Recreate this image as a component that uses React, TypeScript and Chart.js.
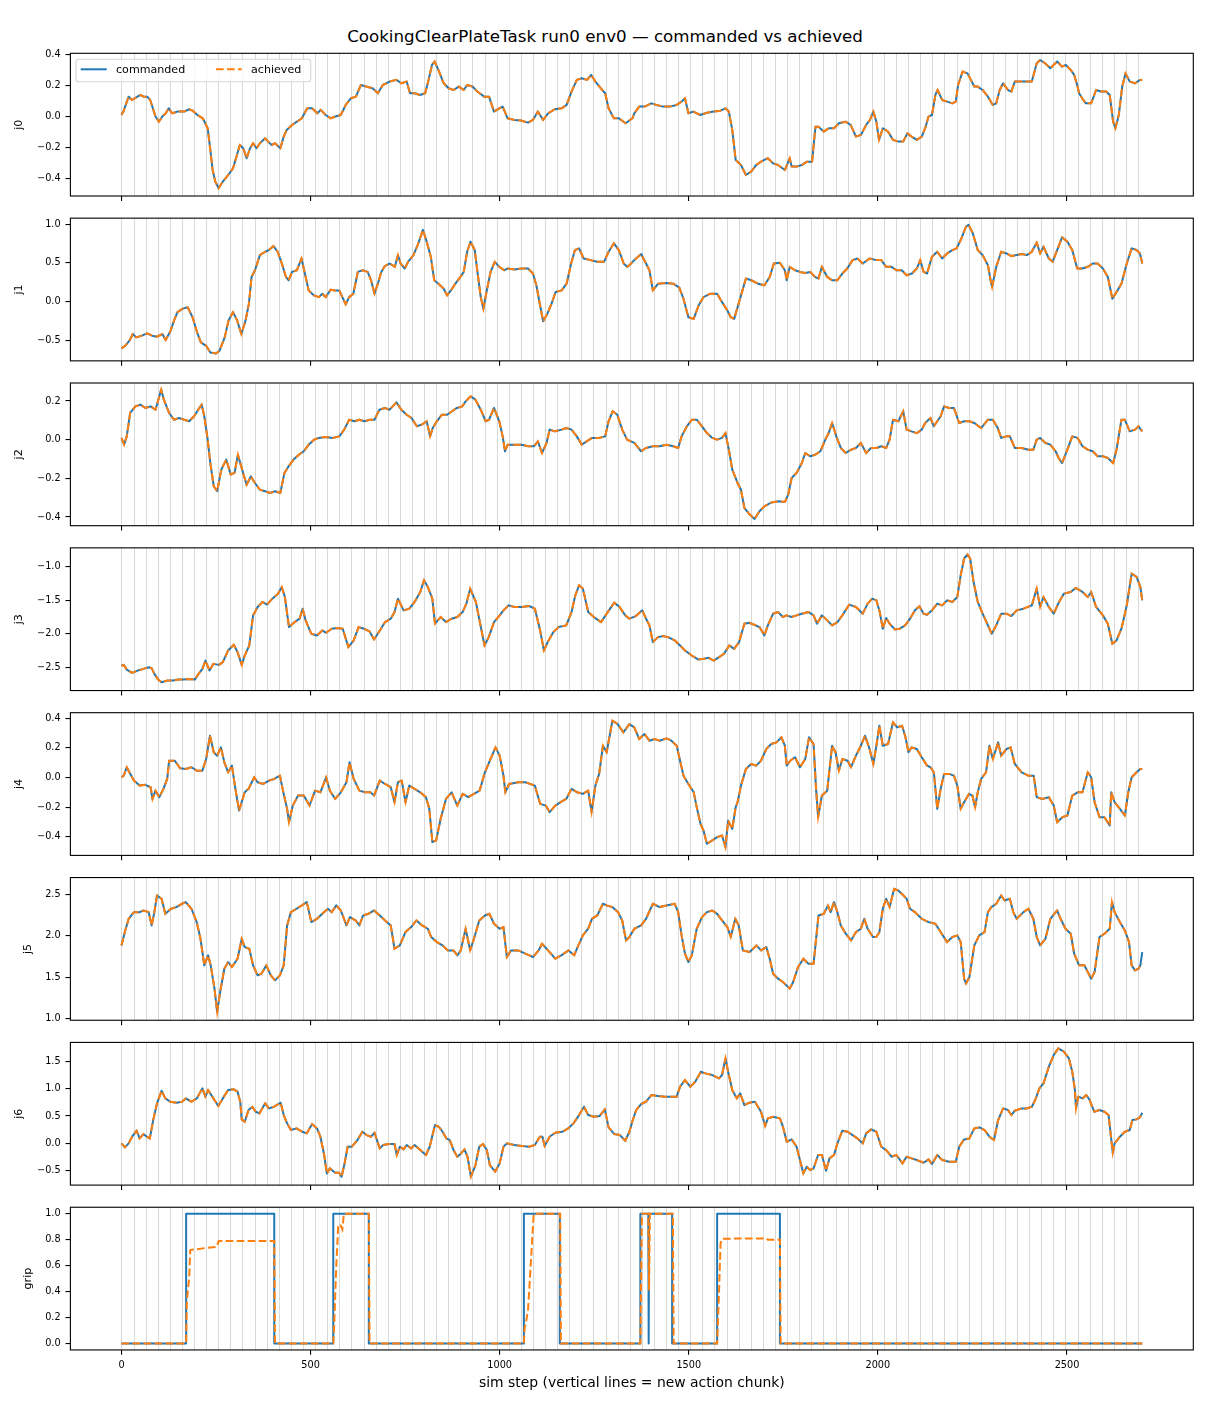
import React, { useEffect, useRef } from "react";
import { Chart, registerables } from "chart.js";

Chart.register(...registerables);
Chart.defaults.font.family = "'DejaVu Sans', sans-serif";
Chart.defaults.color = "#000";

type Pt = [number, number];

const TITLE = "CookingClearPlateTask run0 env0 \u2014 commanded vs achieved";
const X_LABEL = "sim step (vertical lines = new action chunk)";
const LEGEND_LABELS = ["commanded", "achieved"];

const xTicks = [0, 500, 1000, 1500, 2000, 2500];

const chunkStarts = [
  0, 32, 64, 96, 128, 160, 192, 224, 256, 288, 320, 352, 384, 416, 448, 480, 512, 544, 576, 608,
  640, 672, 704, 736, 768, 800, 832, 864, 896, 928, 960, 992, 1024, 1056, 1088, 1120, 1152, 1184,
  1216, 1248, 1280, 1312, 1344, 1376, 1408, 1440, 1472, 1504, 1536, 1568, 1600, 1632, 1664, 1696,
  1728, 1760, 1792, 1824, 1856, 1888, 1920, 1952, 1984, 2016, 2048, 2080, 2112, 2144, 2176, 2208,
  2240, 2272, 2304, 2336, 2368, 2400, 2432, 2464, 2496, 2528, 2560, 2592, 2624, 2656, 2688,
];

const j0Commanded: Pt[] = [
  [0,0.008],[5,0.03],[19,0.126],[28,0.105],[36,0.116],[50,0.137],[59,0.126],[68,0.126],[76,0.105],[90,-0.002],[99,-0.035],[108,-0.002],[117,0.019],[125,0.051],[134,0.019],[148,0.03],[166,0.03],[179,0.045],[188,0.036],[201,0.008],[215,-0.013],[228,-0.077],[235,-0.217],[241,-0.345],[248,-0.42],[257,-0.463],[268,-0.42],[282,-0.378],[295,-0.335],[304,-0.26],[313,-0.185],[322,-0.206],[331,-0.27],[340,-0.206],[348,-0.174],[357,-0.206],[366,-0.174],[380,-0.142],[388,-0.163],[397,-0.185],[406,-0.174],[420,-0.206],[429,-0.131],[437,-0.088],[451,-0.056],[464,-0.035],[477,-0.013],[491,0.051],[504,0.051],[518,0.019],[527,0.041],[540,0.008],[553,-0.013],[566,-0.002],[580,0.008],[593,0.073],[607,0.116],[620,0.126],[633,0.201],[647,0.191],[664,0.18],[678,0.148],[691,0.201],[709,0.223],[727,0.234],[740,0.212],[754,0.223],[763,0.148],[776,0.148],[789,0.137],[803,0.148],[812,0.234],[821,0.33],[828,0.352],[838,0.298],[852,0.212],[865,0.18],[878,0.169],[892,0.191],[905,0.169],[914,0.201],[928,0.191],[941,0.159],[959,0.126],[972,0.126],[985,0.03],[999,0.051],[1008,0.062],[1021,-0.013],[1039,-0.024],[1057,-0.028],[1075,-0.041],[1088,-0.024],[1101,0.03],[1115,-0.024],[1128,0.019],[1146,0.045],[1164,0.051],[1177,0.073],[1190,0.159],[1204,0.234],[1217,0.244],[1231,0.234],[1242,0.266],[1253,0.223],[1271,0.169],[1279,0.148],[1288,0.051],[1302,-0.013],[1315,-0.013],[1333,-0.045],[1351,-0.013],
  [1356,0.019],[1369,0.062],[1383,0.062],[1401,0.083],[1414,0.073],[1432,0.062],[1450,0.062],[1468,0.073],[1481,0.094],[1490,0.116],[1499,0.019],[1512,0.03],[1530,0.008],[1548,0.023],[1566,0.03],[1584,0.036],[1597,0.051],[1606,0.03],[1615,-0.088],[1624,-0.281],[1638,-0.314],[1651,-0.378],[1665,-0.356],[1678,-0.314],[1691,-0.292],[1709,-0.27],[1723,-0.303],[1736,-0.314],[1754,-0.346],[1767,-0.27],[1772,-0.324],[1785,-0.324],[1799,-0.314],[1812,-0.292],[1826,-0.292],[1835,-0.067],[1843,-0.067],[1857,-0.099],[1870,-0.077],[1884,-0.077],[1897,-0.045],[1915,-0.035],[1928,-0.056],[1942,-0.131],[1955,-0.12],[1969,-0.056],[1979,-0.024],[1988,0.03],[1996,-0.035],[2003,-0.152],[2013,-0.077],[2027,-0.099],[2040,-0.152],[2054,-0.163],[2067,-0.163],[2078,-0.11],[2089,-0.131],[2103,-0.152],[2116,-0.131],[2125,-0.077],[2134,-0.002],[2143,0.008],[2152,0.137],[2158,0.169],[2170,0.105],[2183,0.094],[2197,0.083],[2206,0.094],[2212,0.201],[2224,0.287],[2237,0.276],[2246,0.234],[2255,0.191],[2264,0.191],[2277,0.169],[2291,0.126],[2304,0.073],[2313,0.083],[2322,0.169],[2331,0.212],[2344,0.169],[2353,0.159],[2362,0.223],[2380,0.223],[2394,0.223],[2407,0.223],[2420,0.341],[2429,0.362],[2442,0.341],[2456,0.309],[2474,0.352],[2487,0.319],[2497,0.33],[2510,0.298],[2519,0.266],[2528,0.191],[2532,0.148],[2543,0.105],[2550,0.083],[2564,0.083],[2577,0.169],[2590,0.159],[2604,0.159],[2613,0.137],[2622,-0.035],[2628,-0.077],[2637,0.008],[2646,0.191],[2655,0.276],[2666,0.223],[2680,0.212],[2693,0.234],[2699,0.234],
];

const j1Commanded: Pt[] = [
  [0,-0.608],[10,-0.574],[21,-0.508],[30,-0.422],[39,-0.465],[54,-0.443],[68,-0.413],[81,-0.443],[94,-0.456],[108,-0.422],[117,-0.5],[130,-0.378],[139,-0.248],[148,-0.139],[161,-0.096],[175,-0.074],[188,-0.204],[200,-0.4],[210,-0.53],[224,-0.574],[235,-0.661],[250,-0.674],[259,-0.639],[273,-0.465],[283,-0.248],[295,-0.139],[306,-0.248],[317,-0.422],[328,-0.248],[337,-0.03],[344,0.317],[353,0.404],[366,0.6],[380,0.643],[390,0.665],[402,0.717],[413,0.643],[424,0.491],[435,0.317],[442,0.274],[451,0.382],[464,0.404],[476,0.556],[485,0.361],[495,0.143],[509,0.078],[522,0.056],[531,0.1],[540,0.056],[553,0.152],[565,0.143],[576,0.143],[584,0.056],[593,-0.039],[602,0.056],[613,0.1],[625,0.382],[638,0.404],[651,0.382],[660,0.274],[669,0.1],[678,0.23],[687,0.382],[696,0.456],[709,0.491],[723,0.448],[731,0.6],[738,0.491],[749,0.426],[758,0.513],[772,0.6],[785,0.752],[797,0.926],[807,0.774],[818,0.578],[827,0.274],[838,0.23],[852,0.165],[861,0.078],[871,0.143],[883,0.23],[896,0.317],[905,0.382],[914,0.643],[923,0.774],[934,0.665],[943,0.317],[950,0.056],[957,-0.096],[966,0.143],[976,0.382],[987,0.513],[999,0.448],[1012,0.404],[1021,0.426],[1039,0.413],[1057,0.426],[1075,0.426],[1088,0.361],[1097,0.209],[1106,-0.03],[1115,-0.256],[1126,-0.161],[1137,-0.03],[1148,0.122],[1164,0.143],[1177,0.23],[1189,0.491],[1199,0.665],[1210,0.687],[1222,0.556],[1240,0.535],[1258,0.513],[1276,0.513],[1288,0.643],[1302,0.752],[1315,0.665],[1328,0.491],[1337,0.448],
  [1343,0.469],[1356,0.535],[1374,0.613],[1387,0.491],[1396,0.404],[1405,0.143],[1419,0.23],[1441,0.239],[1459,0.23],[1475,0.178],[1486,0.035],[1499,-0.204],[1513,-0.226],[1526,-0.052],[1539,0.056],[1557,0.1],[1575,0.1],[1588,-0.009],[1602,-0.117],[1611,-0.204],[1620,-0.226],[1629,-0.074],[1642,0.143],[1651,0.296],[1665,0.274],[1683,0.23],[1700,0.209],[1714,0.317],[1725,0.491],[1741,0.5],[1754,0.404],[1759,0.274],[1767,0.448],[1781,0.404],[1794,0.382],[1808,0.369],[1821,0.382],[1834,0.317],[1843,0.296],[1852,0.448],[1866,0.317],[1879,0.274],[1893,0.274],[1906,0.361],[1919,0.426],[1933,0.535],[1946,0.556],[1960,0.491],[1978,0.556],[1996,0.535],[2009,0.535],[2022,0.448],[2036,0.448],[2049,0.404],[2063,0.404],[2076,0.339],[2090,0.361],[2103,0.426],[2112,0.535],[2121,0.382],[2130,0.361],[2143,0.578],[2157,0.643],[2170,0.556],[2183,0.621],[2197,0.665],[2208,0.687],[2219,0.795],[2233,0.969],[2240,0.991],[2251,0.882],[2264,0.665],[2277,0.6],[2291,0.469],[2298,0.274],[2302,0.187],[2313,0.448],[2326,0.643],[2340,0.621],[2353,0.587],[2367,0.6],[2380,0.613],[2394,0.6],[2407,0.643],[2420,0.761],[2429,0.621],[2438,0.708],[2452,0.556],[2462,0.513],[2474,0.665],[2487,0.83],[2501,0.774],[2514,0.665],[2527,0.426],[2541,0.426],[2555,0.448],[2568,0.491],[2581,0.491],[2595,0.426],[2608,0.317],[2620,0.035],[2631,0.122],[2644,0.23],[2658,0.491],[2671,0.687],[2684,0.665],[2693,0.621],[2699,0.491],
];

const j2Commanded: Pt[] = [
  [0,0.009],[7,-0.026],[14,0.017],[23,0.138],[37,0.172],[50,0.181],[63,0.164],[77,0.172],[90,0.155],[99,0.216],[105,0.259],[112,0.207],[126,0.138],[139,0.103],[152,0.112],[166,0.103],[179,0.095],[192,0.121],[203,0.155],[212,0.181],[219,0.121],[228,0.0],[235,-0.121],[244,-0.241],[253,-0.267],[264,-0.155],[277,-0.103],[289,-0.181],[299,-0.172],[308,-0.078],[319,-0.155],[331,-0.233],[342,-0.19],[353,-0.224],[366,-0.259],[380,-0.267],[393,-0.276],[406,-0.267],[420,-0.276],[431,-0.172],[442,-0.138],[455,-0.103],[469,-0.078],[482,-0.06],[495,-0.026],[509,0.0],[522,0.009],[540,0.014],[558,0.009],[576,0.017],[589,0.052],[602,0.103],[616,0.095],[629,0.103],[643,0.095],[656,0.103],[669,0.103],[682,0.155],[696,0.164],[709,0.155],[727,0.193],[740,0.155],[754,0.129],[767,0.112],[781,0.069],[794,0.078],[807,0.095],[816,0.017],[823,0.06],[834,0.095],[847,0.129],[861,0.129],[874,0.147],[887,0.164],[901,0.172],[910,0.198],[923,0.224],[936,0.207],[950,0.155],[963,0.095],[972,0.103],[985,0.164],[999,0.095],[1008,0.017],[1014,-0.06],[1021,-0.026],[1039,-0.026],[1057,-0.026],[1075,-0.034],[1091,-0.034],[1101,-0.009],[1112,-0.069],[1124,-0.017],[1132,0.052],[1146,0.043],[1164,0.052],[1177,0.06],[1190,0.052],[1204,0.017],[1217,-0.026],[1230,-0.009],[1244,0.009],[1262,0.009],[1279,0.017],[1288,0.095],[1299,0.147],[1311,0.129],[1324,0.052],[1337,0.0],
  [1356,-0.017],[1374,-0.06],[1387,-0.043],[1405,-0.034],[1423,-0.034],[1441,-0.026],[1459,-0.034],[1472,-0.043],[1481,0.017],[1495,0.069],[1508,0.103],[1521,0.103],[1535,0.069],[1548,0.034],[1562,0.009],[1575,0.0],[1588,0.009],[1597,0.034],[1606,-0.052],[1615,-0.155],[1629,-0.224],[1638,-0.259],[1647,-0.353],[1660,-0.385],[1674,-0.41],[1687,-0.37],[1700,-0.345],[1718,-0.325],[1736,-0.319],[1754,-0.322],[1763,-0.284],[1772,-0.198],[1785,-0.172],[1799,-0.121],[1808,-0.069],[1821,-0.086],[1834,-0.078],[1848,-0.06],[1861,0.0],[1870,0.034],[1879,0.086],[1890,0.017],[1902,-0.043],[1915,-0.069],[1929,-0.052],[1942,-0.043],[1955,-0.017],[1969,-0.069],[1982,-0.043],[1996,-0.043],[2009,-0.034],[2022,-0.043],[2031,0.0],[2040,0.103],[2054,0.095],[2067,0.147],[2076,0.052],[2089,0.043],[2103,0.034],[2116,0.052],[2125,0.086],[2139,0.112],[2148,0.069],[2157,0.095],[2166,0.121],[2175,0.172],[2188,0.164],[2201,0.164],[2215,0.086],[2228,0.095],[2242,0.095],[2255,0.086],[2273,0.06],[2291,0.103],[2304,0.103],[2317,0.06],[2326,0.009],[2340,0.017],[2349,0.017],[2362,-0.043],[2380,-0.043],[2398,-0.052],[2411,-0.052],[2420,0.0],[2429,0.009],[2443,-0.017],[2456,-0.026],[2470,-0.06],[2478,-0.095],[2487,-0.121],[2501,-0.052],[2514,0.017],[2528,0.009],[2541,-0.034],[2555,-0.052],[2568,-0.06],[2581,-0.086],[2595,-0.086],[2608,-0.095],[2622,-0.121],[2631,-0.052],[2644,0.103],[2653,0.103],[2666,0.043],[2680,0.052],[2689,0.069],[2699,0.043],
];

const j3Commanded: Pt[] = [
  [0,-2.467],[6,-2.457],[14,-2.526],[28,-2.575],[43,-2.541],[58,-2.516],[72,-2.491],[80,-2.506],[87,-2.59],[97,-2.674],[106,-2.714],[121,-2.689],[136,-2.689],[150,-2.674],[165,-2.674],[180,-2.664],[194,-2.674],[204,-2.59],[214,-2.516],[222,-2.393],[233,-2.541],[243,-2.442],[258,-2.457],[268,-2.417],[282,-2.244],[297,-2.16],[307,-2.269],[318,-2.457],[326,-2.319],[338,-2.17],[348,-1.726],[360,-1.602],[373,-1.528],[385,-1.568],[399,-1.479],[414,-1.405],[424,-1.306],[432,-1.454],[443,-1.899],[458,-1.825],[471,-1.775],[479,-1.627],[487,-1.8],[502,-1.998],[517,-2.022],[531,-1.948],[541,-1.983],[556,-1.923],[570,-1.914],[585,-1.923],[600,-2.195],[614,-2.096],[627,-1.899],[641,-1.923],[656,-1.963],[668,-2.081],[683,-1.948],[697,-1.825],[712,-1.775],[722,-1.677],[731,-1.479],[746,-1.652],[761,-1.627],[775,-1.528],[790,-1.38],[800,-1.207],[810,-1.306],[822,-1.479],[829,-1.849],[844,-1.751],[858,-1.825],[873,-1.775],[888,-1.751],[902,-1.677],[912,-1.553],[922,-1.331],[937,-1.528],[952,-1.948],[960,-2.17],[971,-2.047],[985,-1.825],[1000,-1.726],[1010,-1.652],[1024,-1.578],[1039,-1.602],[1059,-1.602],[1078,-1.588],[1093,-1.627],[1107,-1.948],[1117,-2.244],[1127,-2.121],[1142,-1.973],[1156,-1.899],[1176,-1.874],[1190,-1.677],[1200,-1.43],[1210,-1.281],[1220,-1.331],[1234,-1.677],[1249,-1.751],[1268,-1.825],[1283,-1.701],[1303,-1.538],[1317,-1.602],[1332,-1.726],
  [1343,-1.775],[1360,-1.736],[1377,-1.652],[1387,-1.775],[1396,-1.874],[1405,-2.121],[1419,-2.047],[1432,-2.032],[1445,-2.047],[1463,-2.096],[1477,-2.17],[1490,-2.244],[1508,-2.319],[1526,-2.378],[1539,-2.368],[1553,-2.353],[1566,-2.393],[1580,-2.343],[1593,-2.294],[1607,-2.17],[1620,-2.22],[1633,-2.121],[1647,-1.849],[1660,-1.835],[1673,-1.864],[1687,-1.899],[1700,-2.022],[1709,-1.874],[1723,-1.701],[1736,-1.677],[1749,-1.751],[1758,-1.726],[1772,-1.751],[1785,-1.726],[1799,-1.701],[1817,-1.677],[1830,-1.726],[1839,-1.849],[1852,-1.726],[1866,-1.8],[1879,-1.874],[1893,-1.825],[1906,-1.726],[1924,-1.568],[1942,-1.602],[1960,-1.701],[1973,-1.553],[1985,-1.479],[1996,-1.504],[2005,-1.677],[2013,-1.923],[2022,-1.765],[2031,-1.849],[2045,-1.933],[2058,-1.923],[2072,-1.874],[2085,-1.775],[2098,-1.652],[2110,-1.593],[2121,-1.701],[2130,-1.716],[2143,-1.652],[2157,-1.553],[2170,-1.578],[2183,-1.504],[2197,-1.528],[2210,-1.454],[2219,-1.133],[2228,-0.886],[2237,-0.827],[2244,-0.886],[2253,-1.232],[2264,-1.528],[2277,-1.701],[2291,-1.874],[2301,-1.998],[2313,-1.874],[2326,-1.701],[2340,-1.701],[2353,-1.736],[2367,-1.652],[2385,-1.627],[2407,-1.578],[2420,-1.331],[2429,-1.602],[2438,-1.454],[2452,-1.602],[2465,-1.701],[2479,-1.528],[2492,-1.405],[2510,-1.38],[2523,-1.321],[2541,-1.38],[2555,-1.454],[2564,-1.38],[2577,-1.602],[2595,-1.726],[2608,-1.849],[2620,-2.146],[2631,-2.096],[2644,-1.923],[2658,-1.578],[2671,-1.109],[2684,-1.158],[2694,-1.306],[2699,-1.504],
];

const j4Commanded: Pt[] = [
  [0,0.002],[6,0.013],[14,0.07],[21,0.036],[33,-0.02],[48,-0.054],[63,-0.049],[77,-0.065],[82,-0.144],[90,-0.088],[100,-0.132],[111,-0.076],[121,-0.009],[126,0.114],[141,0.114],[155,0.063],[170,0.058],[185,0.07],[199,0.047],[214,0.047],[224,0.126],[234,0.283],[244,0.171],[253,0.148],[263,0.204],[272,0.103],[282,0.036],[292,0.081],[302,-0.088],[311,-0.222],[326,-0.099],[336,-0.076],[351,0.002],[360,-0.031],[375,-0.043],[390,-0.02],[404,-0.009],[419,0.013],[428,-0.099],[438,-0.211],[443,-0.301],[453,-0.189],[467,-0.121],[482,-0.121],[497,-0.189],[512,-0.088],[526,-0.099],[541,0.002],[551,-0.088],[565,-0.144],[580,-0.099],[595,-0.031],[603,0.103],[614,-0.009],[629,-0.088],[644,-0.099],[658,-0.099],[668,-0.121],[683,-0.02],[697,-0.043],[712,-0.065],[722,-0.166],[731,-0.031],[741,-0.02],[751,-0.166],[761,-0.054],[775,-0.076],[790,-0.099],[805,-0.132],[814,-0.211],[822,-0.435],[832,-0.424],[844,-0.278],[858,-0.144],[873,-0.099],[888,-0.189],[902,-0.11],[917,-0.132],[932,-0.11],[947,-0.088],[961,0.036],[976,0.126],[989,0.204],[1000,0.148],[1010,0.013],[1015,-0.099],[1025,-0.043],[1049,-0.031],[1068,-0.031],[1093,-0.054],[1107,-0.177],[1122,-0.189],[1132,-0.233],[1147,-0.189],[1161,-0.166],[1176,-0.144],[1190,-0.076],[1205,-0.099],[1220,-0.11],[1234,-0.088],[1243,-0.233],[1253,-0.054],[1263,0.025],[1273,0.215],[1283,0.171],[1298,0.384],[1312,0.361],[1327,0.305],
  [1343,0.361],[1356,0.339],[1369,0.26],[1383,0.294],[1396,0.249],[1410,0.26],[1423,0.249],[1441,0.265],[1454,0.249],[1468,0.215],[1477,0.114],[1486,0.013],[1499,-0.043],[1513,-0.099],[1522,-0.211],[1531,-0.312],[1539,-0.357],[1548,-0.447],[1562,-0.424],[1575,-0.402],[1588,-0.391],[1597,-0.469],[1604,-0.29],[1615,-0.346],[1624,-0.2],[1629,-0.166],[1638,-0.054],[1651,0.058],[1665,0.092],[1678,0.081],[1691,0.114],[1705,0.193],[1718,0.227],[1732,0.238],[1745,0.272],[1754,0.215],[1759,0.081],[1768,0.114],[1781,0.137],[1794,0.07],[1808,0.126],[1818,0.272],[1830,0.227],[1836,-0.054],[1842,-0.267],[1852,-0.121],[1866,-0.088],[1879,0.215],[1888,0.171],[1897,0.047],[1906,0.126],[1920,0.114],[1929,0.07],[1942,0.148],[1955,0.215],[1966,0.283],[1978,0.193],[1988,0.092],[1996,0.215],[2004,0.35],[2013,0.215],[2027,0.227],[2040,0.373],[2051,0.339],[2064,0.35],[2072,0.283],[2081,0.171],[2089,0.204],[2103,0.193],[2116,0.137],[2130,0.081],[2139,0.07],[2148,0.036],[2157,-0.211],[2166,-0.076],[2175,0.025],[2188,0.025],[2201,0.013],[2210,-0.054],[2219,-0.211],[2228,-0.166],[2241,-0.11],[2250,-0.121],[2257,-0.2],[2264,-0.099],[2273,-0.009],[2286,0.036],[2295,0.215],[2304,0.126],[2318,0.238],[2326,0.148],[2340,0.193],[2351,0.204],[2362,0.092],[2380,0.036],[2398,0.013],[2412,0.013],[2420,-0.132],[2434,-0.144],[2452,-0.132],[2465,-0.189],[2474,-0.301],[2488,-0.267],[2501,-0.256],[2514,-0.121],[2528,-0.099],[2541,-0.099],[2555,0.036],[2564,0.002],[2573,-0.166],[2586,-0.267],[2599,-0.267],[2613,-0.323],[2617,-0.099],[2626,-0.166],[2640,-0.211],[2653,-0.256],[2662,-0.099],[2671,0.002],[2684,0.036],[2694,0.058],[2699,0.058],
];

const j5Commanded: Pt[] = [
  [0,1.882],[9,2.043],[19,2.203],[33,2.283],[48,2.283],[58,2.303],[72,2.283],[80,2.123],[87,2.283],[94,2.484],[106,2.444],[116,2.263],[131,2.324],[145,2.344],[160,2.384],[170,2.404],[185,2.324],[199,2.163],[209,1.962],[219,1.642],[229,1.762],[236,1.642],[246,1.361],[253,1.08],[261,1.321],[272,1.601],[282,1.682],[292,1.622],[307,1.722],[318,1.962],[326,1.862],[338,1.842],[348,1.642],[360,1.521],[370,1.541],[383,1.642],[395,1.521],[406,1.461],[419,1.521],[429,1.642],[438,2.123],[448,2.283],[463,2.324],[477,2.364],[490,2.404],[502,2.163],[517,2.203],[531,2.263],[546,2.324],[556,2.283],[568,2.364],[580,2.303],[595,2.123],[604,2.223],[619,2.183],[629,2.123],[639,2.243],[653,2.263],[668,2.303],[683,2.243],[697,2.183],[712,2.123],[722,1.842],[736,1.882],[751,2.043],[766,2.103],[780,2.183],[795,2.123],[810,2.083],[819,1.983],[834,1.922],[849,1.882],[863,1.822],[878,1.822],[888,1.762],[897,1.822],[910,2.083],[922,1.822],[932,1.962],[946,2.183],[961,2.243],[973,2.263],[985,2.143],[1000,2.083],[1010,2.103],[1019,1.742],[1030,1.822],[1049,1.822],[1068,1.782],[1088,1.742],[1103,1.822],[1112,1.902],[1128,1.822],[1147,1.722],[1163,1.762],[1182,1.822],[1197,1.762],[1206,1.862],[1220,2.003],[1234,2.083],[1244,2.203],[1258,2.243],[1273,2.384],[1283,2.364],[1298,2.344],[1313,2.283],[1324,2.183],[1334,1.942],
  [1343,1.983],[1356,2.083],[1374,2.123],[1387,2.203],[1405,2.384],[1423,2.344],[1441,2.364],[1463,2.384],[1472,2.283],[1481,2.003],[1490,1.782],[1499,1.682],[1508,1.762],[1521,2.083],[1535,2.223],[1548,2.283],[1562,2.303],[1575,2.263],[1588,2.183],[1602,2.103],[1611,1.983],[1623,2.203],[1632,2.123],[1643,1.822],[1661,1.802],[1679,1.882],[1691,1.822],[1705,1.862],[1714,1.722],[1723,1.541],[1736,1.481],[1749,1.441],[1767,1.361],[1776,1.441],[1789,1.622],[1803,1.722],[1816,1.662],[1830,1.662],[1843,2.243],[1857,2.263],[1868,2.364],[1875,2.283],[1884,2.404],[1893,2.283],[1902,2.123],[1915,2.023],[1929,1.942],[1942,2.043],[1955,2.083],[1964,2.203],[1973,2.083],[1987,1.983],[1996,1.983],[2004,2.043],[2013,2.324],[2022,2.444],[2031,2.344],[2043,2.564],[2054,2.544],[2063,2.504],[2076,2.444],[2085,2.324],[2098,2.283],[2116,2.203],[2134,2.163],[2152,2.143],[2166,2.043],[2183,1.922],[2197,1.983],[2210,2.003],[2219,1.922],[2228,1.481],[2233,1.421],[2242,1.501],[2255,1.882],[2268,2.003],[2282,2.043],[2291,2.283],[2300,2.344],[2313,2.384],[2326,2.484],[2335,2.424],[2349,2.444],[2358,2.283],[2367,2.203],[2385,2.283],[2398,2.324],[2411,2.203],[2420,1.983],[2429,1.882],[2443,1.962],[2456,2.203],[2474,2.303],[2483,2.203],[2496,2.083],[2510,2.023],[2519,1.782],[2532,1.642],[2546,1.642],[2564,1.481],[2573,1.561],[2586,1.983],[2599,2.023],[2613,2.083],[2619,2.404],[2626,2.283],[2640,2.163],[2653,2.063],[2664,1.922],[2671,1.642],[2680,1.581],[2689,1.601],[2694,1.642],[2699,1.8],
];
const j5AchievedEnd = 1.66;

const j6Commanded: Pt[] = [
  [0,0.0],[9,-0.073],[19,0.0],[28,0.122],[40,0.232],[48,0.091],[58,0.171],[67,0.122],[75,0.091],[84,0.427],[94,0.732],[106,0.963],[116,0.823],[129,0.762],[146,0.744],[160,0.762],[170,0.823],[185,0.762],[199,0.823],[214,1.006],[222,0.854],[229,0.976],[243,0.823],[256,0.683],[268,0.823],[282,0.976],[297,0.988],[307,0.945],[314,0.762],[318,0.439],[326,0.396],[336,0.61],[346,0.671],[355,0.579],[365,0.549],[380,0.732],[390,0.64],[404,0.671],[421,0.744],[429,0.518],[438,0.366],[448,0.244],[463,0.274],[478,0.213],[490,0.183],[504,0.354],[517,0.274],[526,0.122],[536,-0.213],[543,-0.549],[551,-0.457],[565,-0.537],[575,-0.537],[582,-0.61],[590,-0.366],[598,-0.061],[609,-0.061],[624,0.061],[637,0.213],[648,0.152],[660,0.122],[669,0.195],[683,-0.091],[692,-0.03],[707,-0.012],[722,-0.012],[728,-0.213],[736,-0.061],[746,-0.11],[754,-0.03],[766,-0.091],[775,-0.03],[790,-0.122],[805,-0.213],[815,-0.061],[829,0.335],[839,0.305],[849,0.213],[859,0.091],[868,0.061],[878,-0.122],[888,-0.244],[898,-0.183],[907,-0.11],[915,-0.244],[924,-0.61],[936,-0.396],[946,-0.061],[956,-0.012],[966,-0.122],[974,-0.396],[988,-0.518],[1000,-0.366],[1010,-0.061],[1019,0.0],[1039,-0.03],[1059,-0.049],[1078,-0.061],[1093,-0.03],[1106,0.122],[1113,0.122],[1119,-0.049],[1132,0.122],[1147,0.195],[1166,0.213],[1181,0.274],[1195,0.366],[1210,0.518],[1223,0.671],[1234,0.518],[1249,0.488],[1264,0.5],[1278,0.622],[1288,0.293],[1303,0.171],[1318,0.152],[1332,0.049],
  [1343,0.213],[1352,0.427],[1361,0.61],[1374,0.72],[1387,0.762],[1401,0.884],[1419,0.866],[1437,0.854],[1454,0.854],[1468,0.854],[1477,1.037],[1490,1.159],[1504,1.037],[1517,1.128],[1532,1.311],[1544,1.28],[1562,1.25],[1580,1.189],[1588,1.25],[1597,1.555],[1604,1.311],[1615,0.976],[1627,0.823],[1636,0.915],[1647,0.701],[1660,0.744],[1675,0.762],[1691,0.579],[1702,0.317],[1709,0.457],[1723,0.488],[1741,0.457],[1749,0.305],[1759,0.03],[1772,0.073],[1785,-0.061],[1794,-0.305],[1803,-0.549],[1812,-0.427],[1821,-0.488],[1830,-0.457],[1842,-0.213],[1852,-0.213],[1863,-0.5],[1872,-0.274],[1884,-0.213],[1893,0.0],[1906,0.232],[1920,0.213],[1933,0.152],[1946,0.091],[1960,0.0],[1969,0.183],[1982,0.256],[1996,0.213],[2009,-0.061],[2022,-0.122],[2036,-0.244],[2049,-0.213],[2065,-0.366],[2076,-0.244],[2089,-0.274],[2103,-0.305],[2121,-0.354],[2134,-0.293],[2143,-0.378],[2157,-0.213],[2170,-0.305],[2188,-0.335],[2206,-0.335],[2215,-0.061],[2228,0.073],[2242,0.091],[2255,0.274],[2269,0.293],[2282,0.244],[2295,0.122],[2307,0.061],[2318,0.427],[2331,0.64],[2344,0.61],[2353,0.518],[2362,0.598],[2380,0.64],[2394,0.64],[2407,0.671],[2416,0.793],[2427,1.006],[2438,1.098],[2452,1.402],[2465,1.616],[2477,1.738],[2492,1.677],[2505,1.555],[2514,1.311],[2521,0.976],[2524,0.64],[2530,0.854],[2541,0.823],[2551,0.884],[2560,0.793],[2572,0.579],[2586,0.61],[2599,0.579],[2610,0.518],[2621,-0.171],[2626,0.0],[2640,0.122],[2653,0.213],[2666,0.244],[2673,0.427],[2684,0.439],[2693,0.476],[2699,0.561],
];

const gripCommanded: Pt[] = [
  [0,0],[171,0],[171,1],[404,1],[404,0],[560,0],[560,1],[654,1],[654,0],[1064,0],[1064,1],[1159,1],[1159,0],
  [1372,0],[1372,1],[1393,1],[1393.5,0],[1394.5,0],[1395,1],[1456,1],[1456,0],[1575,0],[1575,1],[1741,1],[1741,0],[2699,0],
];
const gripAchieved: Pt[] = [
  [0,0],[171,0],[173,0.33],[176,0.42],[179,0.5],[182,0.72],[220,0.735],[252,0.745],[257,0.79],[404,0.79],[406,0],
  [560,0],[562,0.1],[568,0.6],[573,0.9],[578,0.92],[584,0.88],[588,1.0],[654,1.0],[656,0],
  [1064,0],[1066,0.12],[1070,0.17],[1075,0.26],[1082,0.6],[1090,1.0],[1160,1.0],[1162,0],
  [1372,0],[1376,1.0],[1393,1.0],[1395,0.41],[1397,1.0],[1458,1.0],[1460,0],
  [1575,0],[1580,0.4],[1584,0.77],[1588,0.807],[1650,0.81],[1704,0.81],[1709,0.8],[1741,0.8],[1743,0],[2699,0],
];

const j0YTicks = [-0.4, -0.2, 0, 0.2, 0.4];
const j1YTicks = [-0.5, 0, 0.5, 1.0];
const j2YTicks = [-0.4, -0.2, 0, 0.2];
const j3YTicks = [-2.5, -2.0, -1.5, -1.0];
const j4YTicks = [-0.4, -0.2, 0, 0.2, 0.4];
const j5YTicks = [1.0, 1.5, 2.0, 2.5];
const j6YTicks = [-0.5, 0, 0.5, 1.0, 1.5];
const gripYTicks = [0, 0.2, 0.4, 0.6, 0.8, 1.0];

// layout constants (pixels in the 1210x1408 figure)
const FIG_W = 1210;
const FIG_H = 1408;
const PLOT_L = 70.4;
const PLOT_R = 1193.3;
const PANEL_TOP0 = 53.3;
const PANEL_STEP = 164.85;
const PANEL_H = 142.7;
const X_MIN = -135;
const X_MAX = 2834;
const TICK_LEN = 4.9;
const TICK_FONT = 9.7;
const LABEL_FONT = 11.1;

const panels = [
  { label: "j0", cmd: j0Commanded, ach: j0Commanded, yMin: -0.513, yMax: 0.405, yTicks: j0YTicks, labelX: 19.5 },
  { label: "j1", cmd: j1Commanded, ach: j1Commanded, yMin: -0.769, yMax: 1.078, yTicks: j1YTicks, labelX: 19.5 },
  { label: "j2", cmd: j2Commanded, ach: j2Commanded, yMin: -0.445, yMax: 0.293, yTicks: j2YTicks, labelX: 19.5 },
  { label: "j3", cmd: j3Commanded, ach: j3Commanded, yMin: -2.836, yMax: -0.729, yTicks: j3YTicks, labelX: 19.5 },
  { label: "j4", cmd: j4Commanded, ach: j4Commanded, yMin: -0.525, yMax: 0.438, yTicks: j4YTicks, labelX: 19.5 },
  { label: "j5", cmd: j5Commanded, ach: (j5Commanded.slice(0, -1) as Pt[]).concat([[2699, j5AchievedEnd]]), yMin: 0.98, yMax: 2.70, yTicks: j5YTicks, labelX: 28.5 },
  { label: "j6", cmd: j6Commanded, ach: j6Commanded, yMin: -0.763, yMax: 1.847, yTicks: j6YTicks, labelX: 19.5 },
  { label: "grip", cmd: gripCommanded, ach: gripAchieved, yMin: -0.05, yMax: 1.05, yTicks: gripYTicks, labelX: 28.5 },
];

function canvasGeom(i: number) {
  const top = PANEL_TOP0 + i * PANEL_STEP;
  const cTop = Math.round(top) - 14;
  const isLast = i === panels.length - 1;
  const cH = isLast ? FIG_H - cTop : 171;
  return { top, cTop, cH, isLast };
}

const fmtY = (v: number) => Number(v).toFixed(1).replace("-", "\u2212");

const chunkPlugin = {
  id: "chunkLines",
  beforeDatasetsDraw(chart: any) {
    const { ctx, chartArea } = chart;
    const xs = chart.scales.x;
    ctx.save();
    ctx.strokeStyle = "rgba(128,128,128,0.3)";
    ctx.lineWidth = 1;
    for (const s of chunkStarts) {
      const px = Math.round(xs.getPixelForValue(s)) + 0.5;
      ctx.beginPath();
      ctx.moveTo(px, chartArea.top);
      ctx.lineTo(px, chartArea.bottom);
      ctx.stroke();
    }
    ctx.restore();
  },
};

const framePlugin = {
  id: "frame",
  afterDatasetsDraw(chart: any) {
    const { ctx, chartArea } = chart;
    ctx.save();
    ctx.strokeStyle = "#000";
    ctx.lineWidth = 1.1;
    ctx.strokeRect(chartArea.left, chartArea.top, chartArea.right - chartArea.left, chartArea.bottom - chartArea.top);
    ctx.restore();
  },
};

const legendPlugin = {
  id: "insideLegend",
  afterDraw(chart: any) {
    const { ctx, chartArea } = chart;
    const bx = chartArea.left + 5.6;
    const by = chartArea.top + 6;
    const bw = 234.7;
    const bh = 22.4;
    const r = 2.8;
    ctx.save();
    ctx.beginPath();
    ctx.moveTo(bx + r, by);
    ctx.lineTo(bx + bw - r, by);
    ctx.arcTo(bx + bw, by, bx + bw, by + r, r);
    ctx.lineTo(bx + bw, by + bh - r);
    ctx.arcTo(bx + bw, by + bh, bx + bw - r, by + bh, r);
    ctx.lineTo(bx + r, by + bh);
    ctx.arcTo(bx, by + bh, bx, by + bh - r, r);
    ctx.lineTo(bx, by + r);
    ctx.arcTo(bx, by, bx + r, by, r);
    ctx.closePath();
    ctx.fillStyle = "rgba(255,255,255,0.8)";
    ctx.fill();
    ctx.strokeStyle = "rgba(204,204,204,0.8)";
    ctx.lineWidth = 1.1;
    ctx.stroke();

    const cy = chartArea.top + 16;
    ctx.lineWidth = 2;
    ctx.strokeStyle = "#1f77b4";
    ctx.beginPath();
    ctx.moveTo(chartArea.left + 10.3, cy);
    ctx.lineTo(chartArea.left + 36.3, cy);
    ctx.stroke();

    ctx.strokeStyle = "#ff7f0e";
    ctx.setLineDash([7.7, 3.3]);
    ctx.beginPath();
    ctx.moveTo(chartArea.left + 145.6, cy);
    ctx.lineTo(chartArea.left + 171.3, cy);
    ctx.stroke();
    ctx.setLineDash([]);

    ctx.fillStyle = "#000";
    ctx.font = `${LABEL_FONT}px 'DejaVu Sans', sans-serif`;
    ctx.textBaseline = "middle";
    ctx.textAlign = "left";
    ctx.fillText(LEGEND_LABELS[0], chartArea.left + 45.6, cy + 0.5);
    ctx.fillText(LEGEND_LABELS[1], chartArea.left + 180.6, cy + 0.5);
    ctx.restore();
  },
};

function makeConfig(p: any, i: number): any {
  const { top, cTop, cH, isLast } = canvasGeom(i);
  const padTop = top - cTop;
  const xAxisH = isLast ? 41.3 : 6;
  const padBottom = cH - padTop - PANEL_H - xAxisH;
  const padLeft = p.labelX - LABEL_FONT * 0.6;
  const yAxisW = PLOT_L - padLeft;
  const toXY = (arr: Pt[]) => arr.map(([x, y]) => ({ x, y }));
  return {
    type: "line",
    data: {
      datasets: [
        {
          label: LEGEND_LABELS[0],
          data: toXY(p.cmd),
          borderColor: "#1f77b4",
          borderWidth: 2,
          pointRadius: 0,
          tension: 0,
          fill: false,
          borderJoinStyle: "round",
          order: 1,
        },
        {
          label: LEGEND_LABELS[1],
          data: toXY(p.ach),
          borderColor: "#ff7f0e",
          borderWidth: 2,
          borderDash: [7.7, 3.3],
          pointRadius: 0,
          tension: 0,
          fill: false,
          order: 0,
        },
      ],
    },
    options: {
      animation: false,
      responsive: false,
      maintainAspectRatio: false,
      events: [],
      layout: { padding: { left: padLeft, right: FIG_W - PLOT_R, top: padTop, bottom: padBottom } },
      plugins: { legend: { display: false }, tooltip: { enabled: false }, title: { display: false } },
      scales: {
        x: {
          type: "linear",
          min: X_MIN,
          max: X_MAX,
          afterBuildTicks: (s: any) => {
            s.ticks = xTicks.map((v) => ({ value: v }));
          },
          afterFit: (s: any) => {
            s.height = xAxisH;
          },
          grid: { drawOnChartArea: false, drawTicks: true, tickLength: TICK_LEN, color: "#000", lineWidth: 1.1 },
          border: { display: false },
          ticks: {
            display: isLast,
            autoSkip: false,
            maxRotation: 0,
            padding: 4.9,
            color: "#000",
            font: { size: TICK_FONT },
            callback: (v: any) => String(v),
          },
          title: { display: isLast, text: X_LABEL, color: "#000", font: { size: 13.9 }, padding: 0 },
        },
        y: {
          type: "linear",
          min: p.yMin,
          max: p.yMax,
          afterBuildTicks: (s: any) => {
            s.ticks = p.yTicks.map((v: number) => ({ value: v }));
          },
          afterFit: (s: any) => {
            s.width = yAxisW;
          },
          grid: { drawOnChartArea: false, drawTicks: true, tickLength: TICK_LEN, color: "#000", lineWidth: 1.1 },
          border: { display: false },
          ticks: {
            autoSkip: false,
            padding: 4.9,
            color: "#000",
            font: { size: TICK_FONT },
            callback: (v: any) => fmtY(v),
          },
          title: { display: true, text: p.label, color: "#000", font: { size: LABEL_FONT }, padding: 0 },
        },
      },
    },
    plugins: i === 0 ? [chunkPlugin, framePlugin, legendPlugin] : [chunkPlugin, framePlugin],
  };
}

export default function App() {
  const refs = useRef<(HTMLCanvasElement | null)[]>([]);

  useEffect(() => {
    document.body.style.margin = "0";
    const charts = panels.map((p, i) => new Chart(refs.current[i] as HTMLCanvasElement, makeConfig(p, i)));
    return () => {
      charts.forEach((c) => c.destroy());
    };
  }, []);

  return (
    <div
      style={{
        position: "absolute",
        left: 0,
        top: 0,
        width: FIG_W,
        height: FIG_H,
        background: "#fff",
        overflow: "hidden",
        fontFamily: "'DejaVu Sans', sans-serif",
      }}
    >
      <div
        style={{
          position: "absolute",
          left: 0,
          top: 26,
          width: FIG_W,
          textAlign: "center",
          fontSize: 16.7,
          lineHeight: "20px",
          color: "#000",
          whiteSpace: "nowrap",
        }}
      >
        {TITLE}
      </div>
      {panels.map((p, i) => {
        const { cTop, cH } = canvasGeom(i);
        return (
          <canvas
            key={p.label}
            ref={(el) => {
              refs.current[i] = el;
            }}
            width={FIG_W}
            height={cH}
            style={{ position: "absolute", left: 0, top: cTop, width: FIG_W, height: cH }}
          />
        );
      })}
    </div>
  );
}
